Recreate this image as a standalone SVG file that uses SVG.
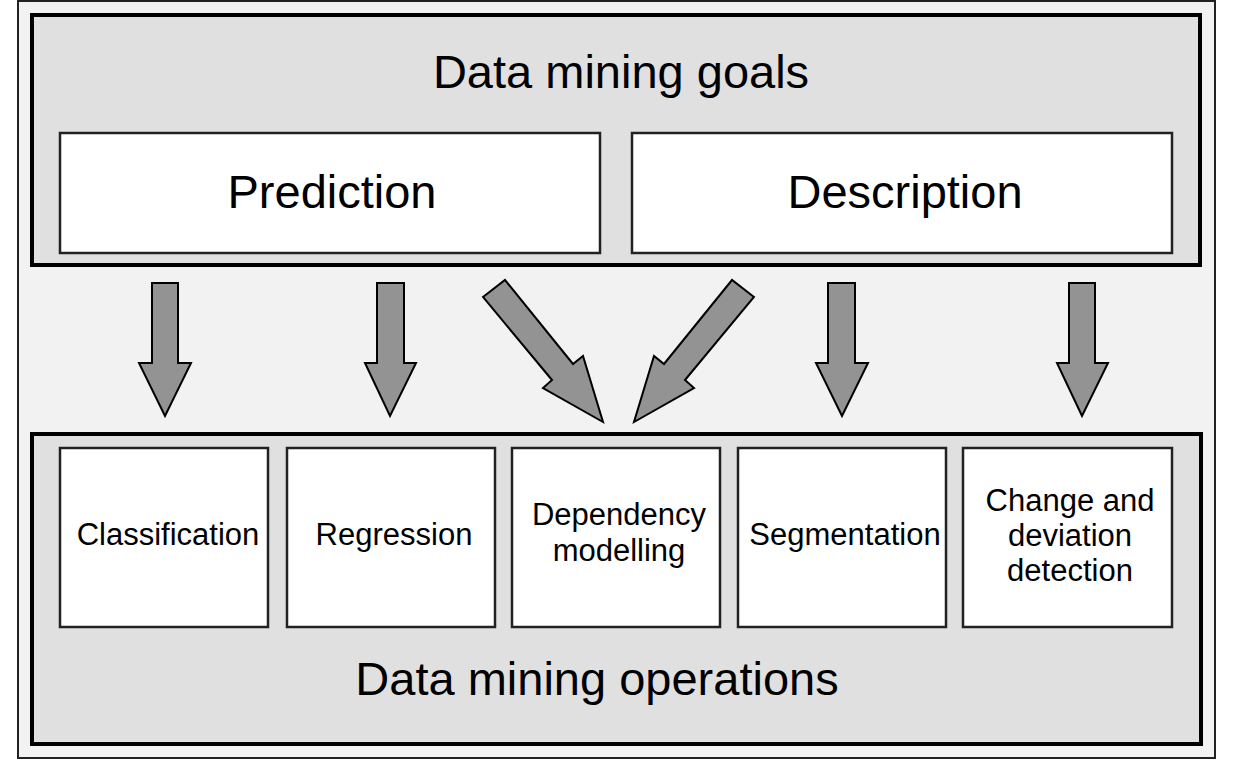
<svg xmlns="http://www.w3.org/2000/svg" width="1238" height="760" viewBox="0 0 1238 760">
<style>
.frame{fill:#f2f2f2;stroke:#222;stroke-width:2}
.group{fill:#e0e0e0;stroke:#000;stroke-width:4}
.box{fill:#fff;stroke:#222;stroke-width:2.5}
.arrow{fill:#939393;stroke:#000;stroke-width:2;stroke-linejoin:miter}
text{font-family:"Liberation Sans",Arial,sans-serif;fill:#000;text-anchor:middle}
.big{font-size:47px}
.mid{font-size:47px}
.small{font-size:31px}
</style>
<rect class="frame" x="18" y="1" width="1197" height="757"/>
<g id="goals">
<rect class="group" x="32" y="15" width="1168" height="250"/>
<text class="big" x="621" y="88">Data mining goals</text>
</g>
<g id="prediction">
<rect class="box" x="60" y="133" width="540" height="120"/>
<text class="mid" x="332" y="208">Prediction</text>
</g>
<g id="description">
<rect class="box" x="632" y="133" width="540" height="120"/>
<text class="mid" x="905" y="208">Description</text>
</g>
<g id="operations">
<rect class="group" x="32" y="434" width="1169" height="310"/>
<text class="big" x="597" y="695">Data mining operations</text>
</g>
<g id="classification">
<rect class="box" x="60" y="448" width="208" height="179"/>
<text class="small" x="168" y="545">Classification</text>
</g>
<g id="regression">
<rect class="box" x="287" y="448" width="208" height="179"/>
<text class="small" x="394" y="545">Regression</text>
</g>
<g id="dependency">
<rect class="box" x="512" y="448" width="208" height="179"/>
<text class="small" x="619" y="525">Dependency</text>
<text class="small" x="619" y="561">modelling</text>
</g>
<g id="segmentation">
<rect class="box" x="738" y="448" width="208" height="179"/>
<text class="small" x="845" y="545">Segmentation</text>
</g>
<g id="change">
<rect class="box" x="963" y="448" width="209" height="179"/>
<text class="small" x="1070" y="511">Change and</text>
<text class="small" x="1070" y="546">deviation</text>
<text class="small" x="1070" y="581">detection</text>
</g>
<g id="connectors">
<polygon class="arrow" points="152,283 178,283 178,363 191,363 165,416 139,363 152,363"/>
<polygon class="arrow" points="377,283 404,283 404,363 416,363 390,416 365,363 377,363"/>
<polygon class="arrow" points="483,297 505,280 573,364 583,356 603,422 543,388 552,380"/>
<polygon class="arrow" points="754,297 732,280 664,364 654,356 634,422 694,388 685,380"/>
<polygon class="arrow" points="828,283 855,283 855,363 868,363 842,416 816,363 828,363"/>
<polygon class="arrow" points="1069,283 1095,283 1095,363 1108,363 1082,416 1057,363 1069,363"/>
</g>
</svg>
